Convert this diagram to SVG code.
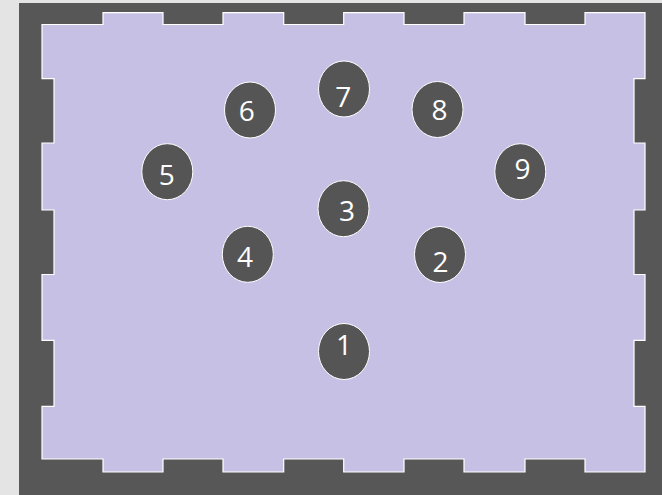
<svg xmlns="http://www.w3.org/2000/svg" width="662" height="495" viewBox="0 0 662 495">
  <defs>
    <style>
      .node ellipse { fill: #555555; stroke: #ffffff; stroke-width: 1; }
      .node text { fill: #ffffff; font-family: "Open Sans", "Noto Sans", "Liberation Sans", sans-serif; font-size: 28px; text-anchor: middle; }
    </style>
  </defs>
  <rect x="0" y="0" width="662" height="495" fill="#e4e4e4"/>
  <rect x="19" y="3" width="643" height="492" fill="#575757"/>
  <path id="board" d="M42,24.5 H103 V12.7 H163 V24.5 H223 V12.7 H283.7 V24.5 H343.7 V12.7 H404 V24.5 H464 V12.7 H525 V24.5 H585 V12.7 H645 V78.7 H634 V143 H645 V210 H634 V274.5 H645 V340.3 H634 V406.3 H645 V472 H585 V459 H525 V472 H464 V459 H404 V472 H343.7 V459 H283.7 V472 H223 V459 H163 V472 H103 V459 H42 V406.3 H54 V340.3 H42 V274.5 H54 V210 H42 V143 H54 V78.7 H42 Z" fill="#c7c0e5" stroke="#ffffff" stroke-width="1.2"/>
  <g id="connectors"></g>
  <g id="node1" class="node"><ellipse cx="344" cy="351.5" rx="25.5" ry="28"/><text x="344" y="355">1</text></g>
  <g id="node2" class="node"><ellipse cx="440" cy="254.5" rx="25.5" ry="28"/><text x="440.5" y="272">2</text></g>
  <g id="node3" class="node"><ellipse cx="343.5" cy="208.7" rx="25.5" ry="28"/><text x="347" y="221">3</text></g>
  <g id="node4" class="node"><ellipse cx="247.8" cy="254.3" rx="25.5" ry="28"/><text x="245" y="266.5">4</text></g>
  <g id="node5" class="node"><ellipse cx="167.3" cy="171.7" rx="25.5" ry="28"/><text x="166.7" y="185">5</text></g>
  <g id="node6" class="node"><ellipse cx="250" cy="110" rx="25.5" ry="28"/><text x="246.7" y="120.7">6</text></g>
  <g id="node7" class="node"><ellipse cx="344" cy="89" rx="25.5" ry="28"/><text x="343.3" y="106.7">7</text></g>
  <g id="node8" class="node"><ellipse cx="437.5" cy="109.5" rx="25.5" ry="28"/><text x="439.5" y="119.7">8</text></g>
  <g id="node9" class="node"><ellipse cx="520.3" cy="171.7" rx="25.5" ry="28"/><text x="522.5" y="179.3">9</text></g>
</svg>
